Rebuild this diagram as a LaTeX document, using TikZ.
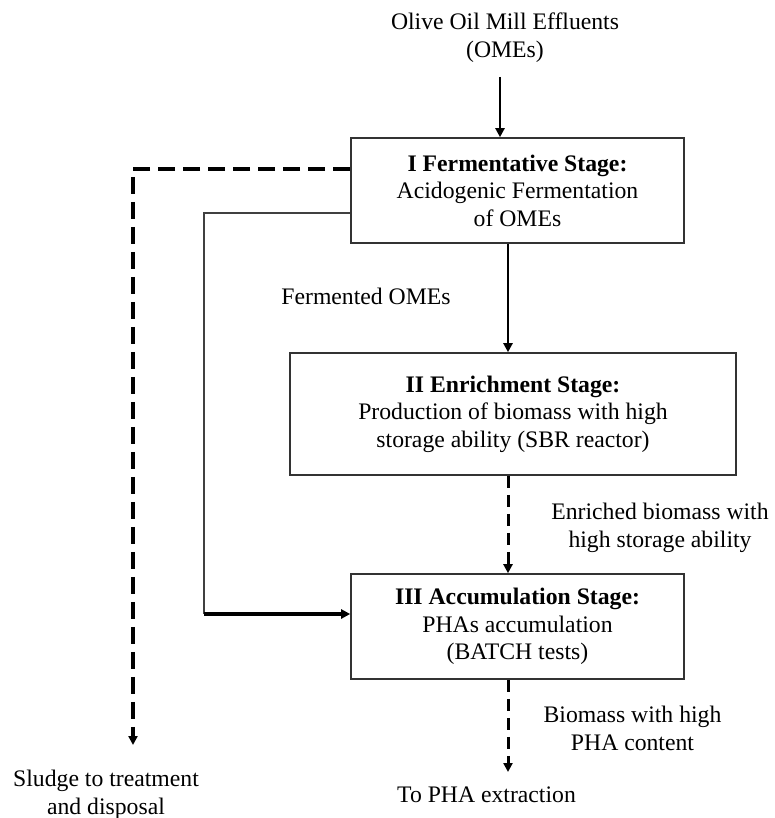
\documentclass[tikz,border=0pt]{standalone}
\usepackage{fontspec}
\setmainfont{Liberation Serif}
\usetikzlibrary{arrows.meta}
\begin{document}
\begin{tikzpicture}[x=1pt,y=-1pt,
  txt/.style={font=\fontsize{23.7}{27.5}\selectfont, align=center, inner sep=0pt},
  stagebox/.style={txt, draw=black!80, line width=1.6pt, minimum width=333pt, minimum height=105pt},
  tip/.style={-{Triangle[length=9pt,width=9pt]}},
  solidarrow/.style={tip, line width=2.8pt},
  dasharrow/.style={tip, line width=3pt, dash pattern=on 12pt off 7pt},
  sludgeline/.style={tip, line width=3.4pt, dash pattern=on 17pt off 8pt},
  thinline/.style={draw=black!75, line width=1.4pt}
]
\useasboundingbox (0,0) rectangle (775,818);

% nodes
\node[txt] (src) at (505,37.5) {Olive Oil Mill Effluents\\(OMEs)};
\node[stagebox] (b1) at (517.5,190.5) {\textbf{I Fermentative Stage:}\\Acidogenic Fermentation\\of OMEs};
\node[stagebox, minimum width=446pt, minimum height=122pt] (b2) at (513,414) {\textbf{II Enrichment Stage:}\\Production of biomass with high\\storage ability (SBR reactor)};
\node[stagebox] (b3) at (517.5,626.5) {\textbf{III Accumulation Stage:}\\PHAs accumulation\\(BATCH tests)};

\node[txt] (lf) at (366,296) {Fermented OMEs};
\node[txt] (le) at (660,528) {Enriched biomass with\\high storage ability};
\node[txt] (lb) at (632.5,728.5) {Biomass with high\\PHA content};
\node[txt] (sl) at (106,795) {Sludge to treatment\\and disposal};
\node[txt] (ex) at (486.5,795) {To PHA extraction};

% coordinates
\coordinate (a0) at (500,77);
\coordinate (xc) at (508,0);
\coordinate (sk) at (133,169);
\coordinate (se) at (133,745);
\coordinate (tk) at (204,213);
\coordinate (tc) at (204,614);
\coordinate (pe) at (508,772);

% connectors
\draw[solidarrow] (a0) -- (a0 |- b1.north);
\draw[solidarrow] (b1.south -| xc) -- (b2.north -| xc);
\draw[dasharrow] (b2.south -| xc) -- (b3.north -| xc);
\draw[dasharrow] (b3.south -| xc) -- (pe);
\draw[sludgeline] (b1.west |- sk) -- (sk) -- (se);
\draw[thinline] (b1.west |- tk) -- (tk) -- (tc);
\draw[solidarrow, line width=3.2pt] (tc) -- (tc -| b3.west);
\end{tikzpicture}
\end{document}
